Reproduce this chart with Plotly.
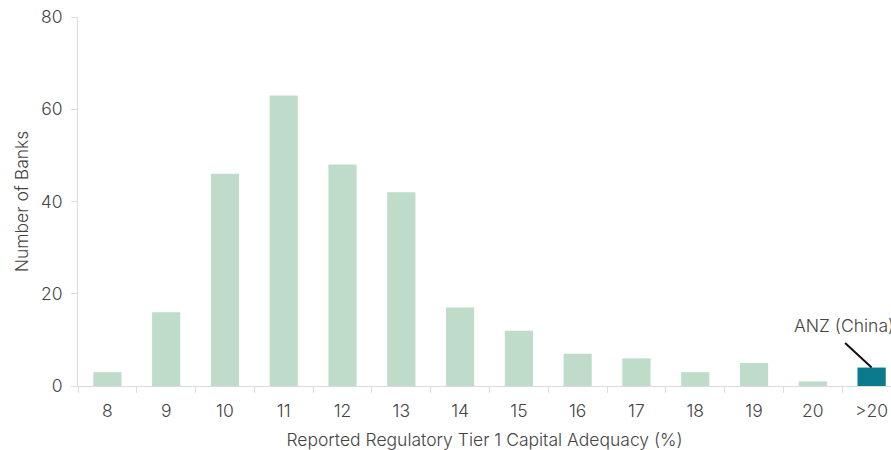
import plotly.graph_objects as go

categories = ["8", "9", "10", "11", "12", "13", "14", "15", "16", "17", "18", "19", "20", ">20"]
counts = [3, 16, 46, 63, 48, 42, 17, 12, 7, 6, 3, 5, 1, 4]
highlight = ">20"
label = "ANZ (China)"
light = "#bfdccb"
dark = "#0a7a8c"
colors = [dark if c == highlight else light for c in categories]

fig = go.Figure(go.Bar(
    x=categories, y=counts, marker_color=colors, width=0.48,
    marker_line_width=0, hoverinfo="skip"
))

font_family = "Inter, Roboto, Arial, sans-serif"
fsize = 17.5
tcol = "#444"
fig.update_layout(
    width=891, height=450,
    margin=dict(l=78, r=0, t=17, b=64),
    plot_bgcolor="white", paper_bgcolor="white",
    font=dict(family=font_family, size=fsize, color=tcol, weight=300),
    showlegend=False,
)
fig.update_xaxes(
    type="category", range=[-0.5, 13.33], automargin=False,
    showline=True, linecolor="#dcdcdc", linewidth=1,
    ticks="outside", tickson="boundaries", ticklen=6, tickcolor="#dcdcdc",
    ticklabelstandoff=9,
    showgrid=False, tickfont=dict(size=fsize, color=tcol, weight=300),
    title=dict(text="Reported Regulatory Tier 1 Capital Adequacy (%)",
               font=dict(size=fsize, color=tcol, weight=300), standoff=13),
)
fig.update_yaxes(
    range=[0, 80], tickvals=[0, 20, 40, 60, 80], automargin=False,
    showline=True, linecolor="#dcdcdc", linewidth=1,
    ticks="outside", ticklen=6, tickcolor="#dcdcdc",
    ticklabelstandoff=5,
    showgrid=False, zeroline=False, tickfont=dict(size=fsize, color=tcol, weight=300),
    title=dict(text="Number of Banks", font=dict(size=fsize, color=tcol, weight=300), standoff=7),
)
# label text
fig.add_annotation(
    x=highlight, y=counts[-1], xref="x", yref="y",
    text=label, showarrow=False, xshift=-28, yshift=42,
    font=dict(size=fsize, color=tcol, weight=300),
)
# leader line
fig.add_annotation(
    x=highlight, y=counts[-1], xref="x", yref="y",
    text=" ", showarrow=True, arrowhead=0, arrowwidth=2, arrowcolor="#111",
    ax=-28, ay=-26, font=dict(size=1), standoff=0,
)
fig.write_html("out.html")
